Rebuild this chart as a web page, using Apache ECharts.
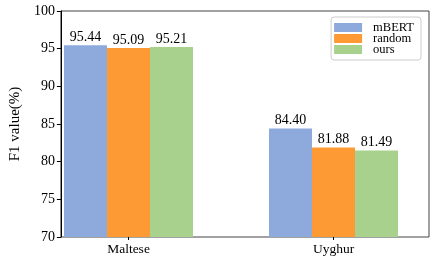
<!DOCTYPE html>
<html><head><meta charset="utf-8">
<script src="https://cdn.jsdelivr.net/npm/echarts@6/dist/echarts.min.js"></script>
<style>html,body{margin:0;padding:0;background:#fff}#c{width:436px;height:262px}</style>
</head><body><div id="c"></div>
<script>
const categories = ['Maltese', 'Uyghur'];
const mbert = [95.44, 84.40];
const random = [95.09, 81.88];
const ours = [95.21, 81.49];
const yTicks = [70, 75, 80, 85, 90, 95, 100];
const seriesNames = ['mBERT', 'random', 'ours'];
const colors = ['#8eaadc', '#fe9a34', '#a8d18d'];

const font = 'Liberation Serif';
const chart = echarts.init(document.getElementById('c'), null, {renderer: 'canvas'});
const seriesData = [mbert, random, ours];
const lbl = {show: true, position: 'top', distance: 1, color: '#000', fontFamily: font, fontSize: 14,
  formatter: p => p.value.toFixed(2)};
chart.setOption({
  animation: false,
  grid: [
    {left: 26, top: 11, width: 428, height: 226, show: false},
    {left: 51, top: 11, width: 378, height: 226, show: true, borderColor: '#444', borderWidth: 1, backgroundColor: 'transparent', z: 0}
  ],
  legend: {
    orient: 'vertical', right: 15, top: 17, itemWidth: 28, itemHeight: 9, itemGap: -2,
    icon: 'rect', data: seriesNames,
    textStyle: {fontFamily: font, fontSize: 12.5, color: '#000', lineHeight: 10, padding: [0, 0, 0, 6]},
    borderColor: '#ccc', borderWidth: 1, borderRadius: 3, padding: [4, 7, 4, 3],
    backgroundColor: '#fff'
  },
  xAxis: [
    {gridIndex: 0, type: 'category', data: categories,
      axisLine: {show: false},
      axisTick: {show: true, alignWithLabel: true, length: 3, lineStyle: {color: '#000'}},
      axisLabel: {color: '#000', fontFamily: font, fontSize: 13.5, margin: 5}},
    {gridIndex: 1, type: 'value', min: 0, max: 1, show: false}
  ],
  yAxis: [
    {gridIndex: 0, type: 'value', min: 70, max: 100, show: false},
    {gridIndex: 1, type: 'value', min: yTicks[0], max: yTicks[yTicks.length - 1], interval: yTicks[1] - yTicks[0],
      name: 'F1 value(%)', nameLocation: 'middle', nameGap: 28,
      nameTextStyle: {fontFamily: font, fontSize: 15, color: '#000'},
      axisLine: {show: true, lineStyle: {color: '#000', width: 1}},
      axisTick: {show: true, length: 4, lineStyle: {color: '#000'}},
      axisLabel: {color: '#000', fontFamily: font, fontSize: 14, margin: 6},
      splitLine: {show: false}}
  ],
  series: seriesNames.map((n, i) => ({
    name: n, type: 'bar', xAxisIndex: 0, yAxisIndex: 0,
    data: seriesData[i], barWidth: 43, barGap: '0%',
    itemStyle: {color: colors[i]}, label: lbl
  }))
});
</script></body></html>
